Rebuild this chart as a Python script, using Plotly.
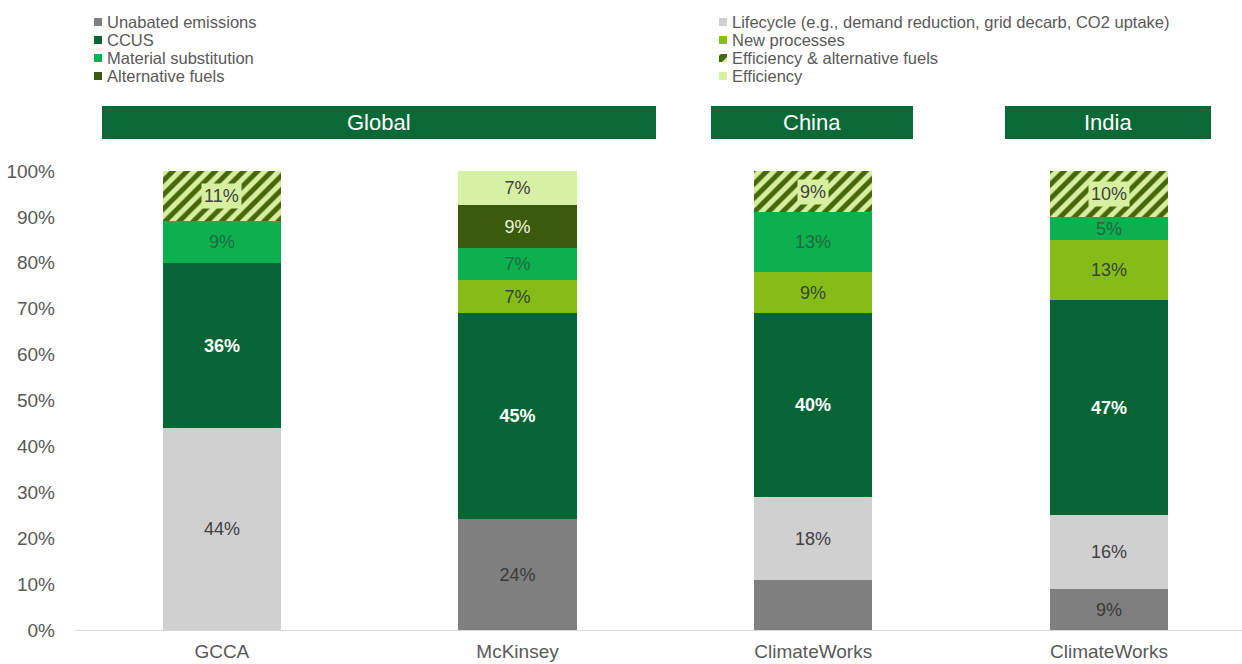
import plotly.graph_objects as go

# ---------------- data ----------------
sources = ["GCCA", "McKinsey", "ClimateWorks", "ClimateWorks"]
unabated = [0, 24.2, 11, 9]
lifecycle = [44, 0, 18, 16]
ccus = [36, 44.8, 40, 47]
new_processes = [0, 7.3, 9, 13]
material_sub = [9, 6.9, 13, 5]
alt_fuels = [0, 9.4, 0, 0]
eff_alt_fuels = [11, 0, 9, 10]
efficiency = [0, 7.3, 0, 0]

series_names = [
    "Unabated emissions",
    "Lifecycle (e.g., demand reduction, grid decarb, CO2 uptake)",
    "CCUS",
    "New processes",
    "Material substitution",
    "Alternative fuels",
    "Efficiency & alternative fuels",
    "Efficiency",
]
series_values = [unabated, lifecycle, ccus, new_processes, material_sub,
                 alt_fuels, eff_alt_fuels, efficiency]
hidden_labels = {("Unabated emissions", 2)}

regions = ["Global", "China", "India"]
y_ticks = [0, 10, 20, 30, 40, 50, 60, 70, 80, 90, 100]

legend_left = ["Unabated emissions", "CCUS", "Material substitution", "Alternative fuels"]
legend_right = ["Lifecycle (e.g., demand reduction, grid decarb, CO2 uptake)",
                "New processes", "Efficiency & alternative fuels", "Efficiency"]

# ---------------- styles ----------------
FONT = "Liberation Sans, Arial, sans-serif"
GREY_TXT = "#595959"
HATCH_BG = "#d6f0a0"
HATCH_FG = "#46680a"
styles = {
    "Unabated emissions": dict(color="#7f7f7f", txt="#3a3a3a", bold=False),
    "Lifecycle (e.g., demand reduction, grid decarb, CO2 uptake)": dict(color="#d0d0d0", txt="#404040", bold=False),
    "CCUS": dict(color="#056534", txt="#ffffff", bold=True),
    "New processes": dict(color="#86bc18", txt="#34462a", bold=False),
    "Material substitution": dict(color="#0cb04f", txt="#1d6a3c", bold=False),
    "Alternative fuels": dict(color="#3c5a0e", txt="#eef7dc", bold=False),
    "Efficiency & alternative fuels": dict(color=HATCH_BG, txt="#404040", bold=False),
    "Efficiency": dict(color="#d7f1a4", txt="#404040", bold=False),
}

W, H = 1242, 664
L, R, T, B = 74, 0, 171, 34
PW, PH = W - L - R, H - T - B


def pxx(px):
    return (px - L) / PW


def pxy(py):
    return (H - B - py) / PH


xs = list(range(len(sources)))
fig = go.Figure()
annotations = []

for name, vals in zip(series_names, series_values):
    st = styles[name]
    hatched = name == "Efficiency & alternative fuels"
    texts = []
    for i, v in enumerate(vals):
        if v == 0 or (name, i) in hidden_labels or hatched:
            texts.append("")
        else:
            texts.append(f"{v:.0f}%")
    marker = dict(color=st["color"], line=dict(width=0))
    if hatched:
        marker["pattern"] = dict(shape="/", fgcolor=HATCH_FG, bgcolor=HATCH_BG,
                                 fillmode="replace", fgopacity=1, size=10, solidity=0.5)
    fig.add_trace(go.Bar(
        x=xs, y=vals, name=name, width=0.4, marker=marker,
        text=texts, textposition="inside", insidetextanchor="middle",
        textangle=0, cliponaxis=False, showlegend=False, constraintext="none",
        textfont=dict(family=FONT, size=18, color=st["txt"],
                      weight="bold" if st["bold"] else "normal"),
        hoverinfo="skip",
    ))

# labels with a background box on hatched segments
cum = [0] * len(sources)
for name, vals in zip(series_names, series_values):
    for i, v in enumerate(vals):
        if name == "Efficiency & alternative fuels" and v > 0:
            annotations.append(dict(
                x=i, y=cum[i] + v / 2, xref="x", yref="y", text=f"{v:.0f}%",
                showarrow=False, bgcolor=HATCH_BG, borderpad=2,
                font=dict(family=FONT, size=18, color="#404040")))
        cum[i] += v

# region banners
banners = [(102, 656), (711, 913), (1005, 1211)]
shapes = []
for reg, (x0, x1) in zip(regions, banners):
    shapes.append(dict(type="rect", xref="paper", yref="paper",
                       x0=pxx(x0), x1=pxx(x1), y0=pxy(139), y1=pxy(106),
                       fillcolor="#0a6a37", line=dict(width=0), layer="above"))
    annotations.append(dict(x=pxx((x0 + x1) / 2), y=pxy(122.5), xref="paper", yref="paper",
                            text=reg, showarrow=False, xanchor="center", yanchor="middle",
                            font=dict(family=FONT, size=22, color="white")))

# legend (two columns)
rows = [22, 40, 58, 76]
for col, (sx, tx) in zip([legend_left, legend_right], [(94, 105), (719, 730)]):
    for name, ry in zip(col, rows):
        st = styles[name]
        if name == "Efficiency & alternative fuels":
            shapes.append(dict(type="rect", xref="paper", yref="paper",
                               x0=pxx(sx), x1=pxx(sx + 8), y0=pxy(ry + 4), y1=pxy(ry - 4),
                               fillcolor=HATCH_BG, line=dict(width=0)))
            shapes.append(dict(type="path", xref="paper", yref="paper",
                               path=(f"M {pxx(sx)},{pxy(ry + 4)} L {pxx(sx + 3)},{pxy(ry + 4)} "
                                     f"L {pxx(sx + 8)},{pxy(ry - 1)} L {pxx(sx + 8)},{pxy(ry - 4)} "
                                     f"L {pxx(sx + 2)},{pxy(ry - 4)} L {pxx(sx)},{pxy(ry - 2)} Z"),
                               fillcolor=HATCH_FG, line=dict(width=0)))
        else:
            shapes.append(dict(type="rect", xref="paper", yref="paper",
                               x0=pxx(sx), x1=pxx(sx + 8), y0=pxy(ry + 4), y1=pxy(ry - 4),
                               fillcolor=st["color"], line=dict(width=0)))
        annotations.append(dict(x=pxx(tx), y=pxy(ry), xref="paper", yref="paper",
                                text=name, showarrow=False, xanchor="left", yanchor="middle",
                                font=dict(family=FONT, size=16.5, color=GREY_TXT)))

fig.update_layout(
    template="none",
    width=W, height=H,
    margin=dict(l=L, r=R, t=T, b=B, pad=0),
    barmode="stack",
    bargap=0,
    plot_bgcolor="white", paper_bgcolor="white",
    font=dict(family=FONT, color=GREY_TXT),
    showlegend=False,
    shapes=shapes,
    annotations=annotations,
    xaxis=dict(range=[-0.5, 3.45], tickmode="array", tickvals=xs, ticktext=sources,
               showgrid=False, zeroline=False, showline=True, linecolor="#d9d9d9",
               linewidth=1, ticks="", tickfont=dict(family=FONT, size=19, color=GREY_TXT),
               ticklabelstandoff=4, fixedrange=True),
    yaxis=dict(range=[0, 100], tickmode="array", tickvals=y_ticks,
               ticktext=[f"{t}%" for t in y_ticks], showgrid=False, zeroline=False,
               showline=False, ticks="", tickfont=dict(family=FONT, size=19, color=GREY_TXT),
               ticklabelstandoff=18, fixedrange=True),
)

fig.write_html("out.html")
